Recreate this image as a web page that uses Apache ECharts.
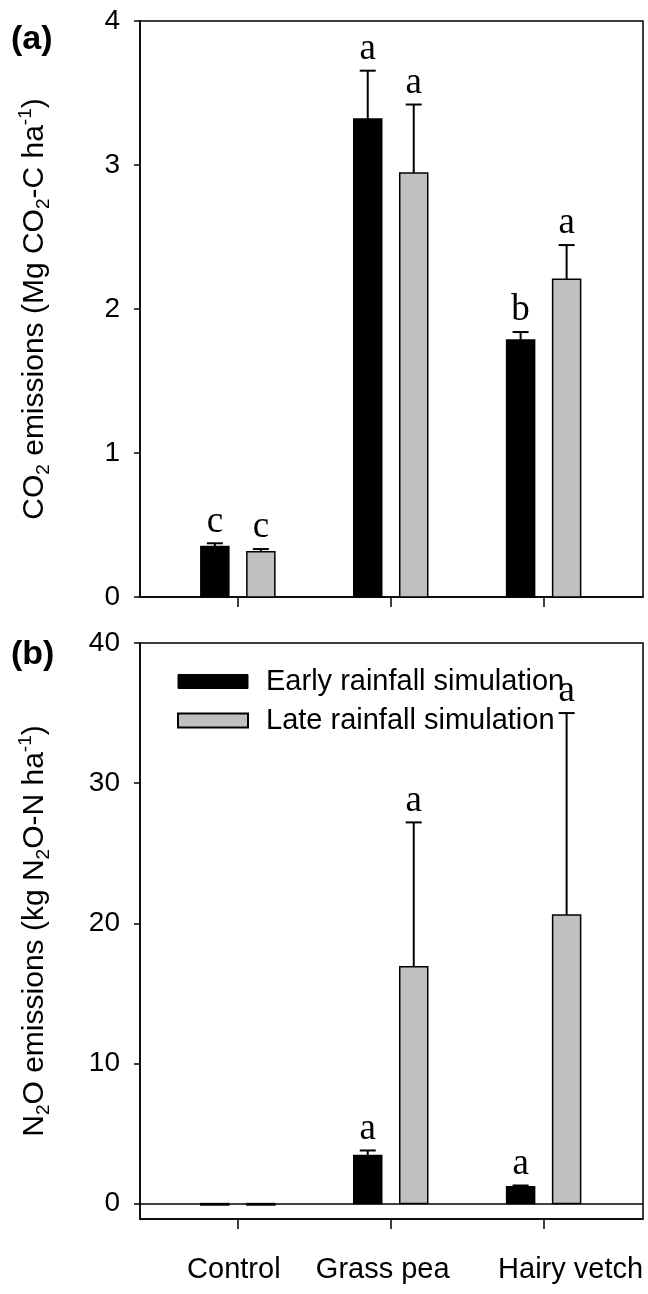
<!DOCTYPE html>
<html><head><meta charset="utf-8">
<script src="https://cdn.jsdelivr.net/npm/echarts@6/dist/echarts.min.js"></script>
<style>html,body{margin:0;padding:0;background:#fff}#c{width:648px;height:1294px}</style>
</head><body><div id="c"></div>
<script>
const categories = ['Control', 'Grass pea', 'Hairy vetch'];
const categoryPos = [1, 2, 3];
const seriesNames = ['Early rainfall simulation', 'Late rainfall simulation'];
const co2Early = [0.35, 3.32, 1.785];
const co2EarlySE = [0.023, 0.335, 0.055];
const co2Late = [0.315, 2.944, 2.206];
const co2LateSE = [0.018, 0.476, 0.238];
const co2EarlyLetters = ['c', 'a', 'b'];
const co2LateLetters = ['c', 'a', 'a'];
const n2oEarly = [-0.1, 3.43, 1.21];
const n2oEarlySE = [0, 0.36, 0.08];
const n2oLate = [-0.1, 16.9, 20.6];
const n2oLateSE = [0, 10.3, 14.4];
const n2oEarlyLetters = ['', 'a', 'a'];
const n2oLateLetters = ['', 'a', 'a'];
const co2Ticks = [0, 1, 2, 3, 4];
const n2oTicks = [0, 10, 20, 30, 40];

const SANS = 'Liberation Sans';
const SERIF = 'Liberation Serif';
const FILLS = ['#000000', '#c0c0c0'];

function rows(vals, ses) { return vals.map((v, i) => [categoryPos[i], v, ses[i]]); }

function barRenderer(offset, fill, letters) {
  return function (params, api) {
    const x = api.value(0), v = api.value(1), se = api.value(2);
    const p0 = api.coord([x, 0]), p1 = api.coord([x, v]);
    const cx = p0[0] + offset, w = 28;
    const yTop = Math.min(p0[1], p1[1]);
    const h = Math.max(Math.abs(p1[1] - p0[1]), 1);
    const ch = [{ type: 'rect', shape: { x: cx - w / 2, y: yTop, width: w, height: h },
      style: { fill: fill, stroke: '#000', lineWidth: 1.5 } }];
    let capY = Math.min(p0[1], p1[1]);
    if (se > 0) {
      capY = api.coord([x, v + se])[1];
      ch.push({ type: 'line', shape: { x1: cx, y1: p1[1], x2: cx, y2: capY }, style: { stroke: '#000', lineWidth: 2 } });
      ch.push({ type: 'line', shape: { x1: cx - 8, y1: capY, x2: cx + 8, y2: capY }, style: { stroke: '#000', lineWidth: 2 } });
    }
    const t = letters[params.dataIndex];
    if (t) ch.push({ type: 'text', style: { text: t, x: cx, y: capY - 3, align: 'center', verticalAlign: 'bottom',
      fontSize: 37, fontFamily: SERIF, fill: '#000' } });
    return { type: 'group', children: ch };
  };
}

const richName = {
  b: { fontSize: 30, fontFamily: SANS, color: '#000' },
  s: { fontSize: 19, fontFamily: SANS, color: '#000', padding: [18, 0, 0, 0] },
  p: { fontSize: 19, fontFamily: SANS, color: '#000', padding: [0, 0, 18, 0] }
};
const axisLineStyle = { color: '#000', width: 1.5 };

function yAxisCommon(extra) {
  return Object.assign({
    type: 'value',
    axisLine: { show: true, lineStyle: axisLineStyle },
    axisTick: { show: true, length: 6, lineStyle: axisLineStyle },
    axisLabel: { fontSize: 28, fontFamily: SANS, color: '#000', margin: 20 },
    splitLine: { show: false },
    nameLocation: 'middle', nameRotate: 90, nameGap: 87,
    nameTextStyle: { rich: richName }
  }, extra);
}

const labelShift = { Control: [0, 8, 0, 0], 'Grass pea': [0, 16, 0, 0], 'Hairy vetch': [0, 0, 0, 54] };
const richCat = {};
categories.forEach((c, i) => { richCat['c' + i] = { fontSize: 29, fontFamily: SANS, color: '#000', padding: labelShift[c] }; });

const chart = echarts.init(document.getElementById('c'), null, { renderer: 'canvas' });
chart.setOption({
  animation: false,
  backgroundColor: '#fff',
  grid: [
    { left: 140, top: 21, width: 503, height: 576, show: true, borderColor: '#000', borderWidth: 1.5 },
    { left: 140, top: 643, width: 503, height: 576, show: true, borderColor: '#000', borderWidth: 1.5 }
  ],
  xAxis: [
    { gridIndex: 0, type: 'value', min: 0.36, max: 3.65,
      axisLine: { onZero: false, lineStyle: axisLineStyle },
      axisTick: { customValues: categoryPos, length: 10, lineStyle: axisLineStyle },
      axisLabel: { show: false }, splitLine: { show: false } },
    { gridIndex: 1, type: 'value', min: 0.36, max: 3.65,
      axisLine: { onZero: false, lineStyle: axisLineStyle },
      axisTick: { customValues: categoryPos, length: 10, lineStyle: axisLineStyle },
      axisLabel: { customValues: categoryPos, margin: 36, rich: richCat,
        formatter: function (v) { const i = Math.round(v) - 1; return '{c' + i + '|' + categories[i] + '}'; } },
      splitLine: { show: false } }
  ],
  yAxis: [
    yAxisCommon({ gridIndex: 0, min: 0, max: 4, interval: 1,
      name: '{b|CO}{s|2}{b| emissions (Mg CO}{s|2}{b|-C ha}{p|-1}{b|)}' }),
    yAxisCommon({ gridIndex: 1, min: -1.1, max: 40,
      axisTick: { show: true, length: 6, lineStyle: axisLineStyle, customValues: n2oTicks },
      axisLabel: { fontSize: 28, fontFamily: SANS, color: '#000', margin: 20, customValues: n2oTicks },
      name: '{b|N}{s|2}{b|O emissions (kg N}{s|2}{b|O-N ha}{p|-1}{b|)}' })
  ],
  legend: {
    orient: 'vertical', left: 172, top: 662, itemWidth: 70, itemHeight: 14, itemGap: 10, icon: 'rect',
    textStyle: { fontSize: 29, fontFamily: SANS, color: '#000', padding: [0, 0, 0, 13] },
    data: [
      { name: seriesNames[0], itemStyle: { color: FILLS[0], borderColor: '#000', borderWidth: 1 } },
      { name: seriesNames[1], itemStyle: { color: FILLS[1], borderColor: '#000', borderWidth: 2 } }
    ]
  },
  graphic: [
    { type: 'text', left: 11, top: 23, style: { text: '(a)', fontSize: 34, fontWeight: 'bold', fontFamily: SANS, fill: '#000' } },
    { type: 'text', left: 11, top: 638, style: { text: '(b)', fontSize: 34, fontWeight: 'bold', fontFamily: SANS, fill: '#000' } }
  ],
  series: [
    { type: 'custom', name: seriesNames[0], xAxisIndex: 0, yAxisIndex: 0, itemStyle: { color: FILLS[0] },
      renderItem: barRenderer(-23, FILLS[0], co2EarlyLetters), data: rows(co2Early, co2EarlySE) },
    { type: 'custom', name: seriesNames[1], xAxisIndex: 0, yAxisIndex: 0, itemStyle: { color: FILLS[1] },
      renderItem: barRenderer(23, FILLS[1], co2LateLetters), data: rows(co2Late, co2LateSE) },
    { type: 'custom', name: seriesNames[0], xAxisIndex: 1, yAxisIndex: 1, itemStyle: { color: FILLS[0] },
      renderItem: barRenderer(-23, FILLS[0], n2oEarlyLetters), data: rows(n2oEarly, n2oEarlySE) },
    { type: 'custom', name: seriesNames[1], xAxisIndex: 1, yAxisIndex: 1, itemStyle: { color: FILLS[1] },
      renderItem: barRenderer(23, FILLS[1], n2oLateLetters), data: rows(n2oLate, n2oLateSE),
      markLine: { silent: true, symbol: 'none', label: { show: false },
        lineStyle: { color: '#000', width: 1.5, type: 'solid' }, data: [{ yAxis: 0 }] } }
  ]
});
</script></body></html>
